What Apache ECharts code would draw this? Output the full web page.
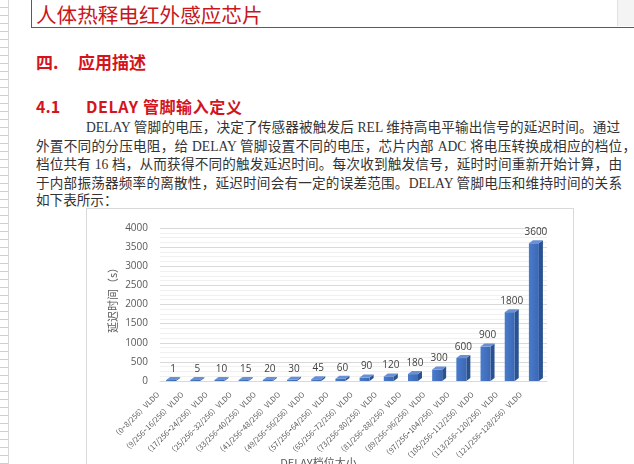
<!DOCTYPE html>
<html>
<head>
<meta charset="utf-8">
<script src="https://cdn.jsdelivr.net/npm/echarts@6/dist/echarts.min.js"></script>
<style>
    html, body { margin: 0; padding: 0; background: #fff; overflow: hidden; }
    body { width: 634px; height: 464px; position: relative; font-family: "Liberation Serif", "Noto Sans CJK SC", serif; }
    .ruler { position: absolute; left: 0; top: 0; width: 8px; height: 464px;
        border-right: 1px solid #d8d8d8;
        background: repeating-linear-gradient(to bottom, transparent 0, transparent 7px, #cfcfcf 7px, #cfcfcf 8px); }
    .titlebox { position: absolute; left: 31px; top: -12px; width: 640px; height: 40px; border: 1px solid #5a5a5a; box-sizing: border-box; }
    .title { position: absolute; left: 36px; top: 1px; font: 20.6px "Noto Sans CJK SC", sans-serif; color: #c8161d; line-height: 26px; }
    .panel { position: absolute; left: 617px; top: 0; width: 17px; height: 26px; background: #f4f4f4; border-left: 1px solid #e2e2e2; }
    .h { position: absolute; font: bold 16px "Noto Sans CJK SC", sans-serif; color: #d4141c; line-height: 22px; white-space: pre; }
    .line { position: absolute; font-size: 13.6px; color: #333; line-height: 18px; text-align: justify; text-align-last: justify; white-space: nowrap; }
    .frame { position: absolute; left: 86px; top: 208px; width: 488px; height: 270px; border: 1px solid #d9d9d9; box-sizing: border-box; }
    #delayChart { position: absolute; left: 86px; top: 208px; width: 488px; height: 270px; }
</style>
</head>
<body>
<div class="ruler"></div>
<div class="titlebox"></div>
<div class="title">人体热释电红外感应芯片</div>
<div class="panel"></div>
<div class="h" style="left:36px;top:51px;font-size:17px;">四.</div>
<div class="h" style="left:78px;top:51px;font-size:17px;">应用描述</div>
<div class="h" style="left:36px;top:95px;">4.1</div>
<div class="h" style="left:86px;top:95px;letter-spacing:0.6px;">DELAY 管脚输入定义</div>
<div class="line" style="left:86px;top:119px;width:534px;">DELAY 管脚的电压，决定了传感器被触发后 REL 维持高电平输出信号的延迟时间。通过</div>
<div class="line" style="left:36px;top:138px;width:600px;">外置不同的分压电阻，给 DELAY 管脚设置不同的电压，芯片内部 ADC 将电压转换成相应的档位，</div>
<div class="line" style="left:36px;top:156px;width:586px;">档位共有 16 档，从而获得不同的触发延迟时间。每次收到触发信号，延时时间重新开始计算，由</div>
<div class="line" style="left:36px;top:175px;width:586px;">于内部振荡器频率的离散性，延迟时间会有一定的误差范围。DELAY 管脚电压和维持时间的关系</div>
<div class="line" style="left:36px;top:192px;text-align:left;text-align-last:left;">如下表所示：</div>
<div class="frame"></div>
<div id="delayChart"></div>

<script>
// données
const categories = [
    "（0~8/256）VLDO", "（9/256~16/256）VLDO", "（17/256~24/256）VLDO", "（25/256~32/256）VLDO",
    "（33/256~40/256）VLDO", "（41/256~48/256）VLDO", "（49/256~56/256）VLDO", "（57/256~64/256）VLDO",
    "（65/256~72/256）VLDO", "（73/256~80/256）VLDO", "（81/256~88/256）VLDO", "（89/256~96/256）VLDO",
    "（97/256~104/256）VLDO", "（105/256~112/256）VLDO", "（113/256~120/256）VLDO", "（121/256~128/256）VLDO"
];
const delaySeconds = [1, 5, 10, 15, 20, 30, 45, 60, 90, 120, 180, 300, 600, 900, 1800, 3600];
const yMin = 0;
const yMax = 4000;
const yStep = 500;

const chart = echarts.init(document.getElementById("delayChart"));

// barre "3D" : face avant + côté + dessus
function renderBar(params, api) {
    const idx = api.value(0);
    const val = api.value(1);
    const base = api.coord([idx, 0]);
    const top = api.coord([idx, val]);
    const w = 10, dx = 4, dy = 3;
    const x0 = base[0] - w / 2 - 1;
    const x1 = x0 + w;
    const yb = base[1];
    const yt = Math.min(top[1], yb - 1);
    return {
        type: "group",
        children: [
            {
                type: "polygon",
                shape: { points: [[x1, yb], [x1 + dx, yb - dy], [x1 + dx, yt - dy], [x1, yt]] },
                style: { fill: "#2b5290" }
            },
            {
                type: "rect",
                shape: { x: x0, y: yt, width: w, height: yb - yt },
                style: {
                    fill: new echarts.graphic.LinearGradient(0, 0, 1, 0, [
                        { offset: 0, color: "#4a7bcc" },
                        { offset: 1, color: "#3c68b4" }
                    ])
                }
            },
            {
                type: "polygon",
                shape: { points: [[x0, yt], [x0 + dx, yt - dy], [x1 + dx, yt - dy], [x1, yt]] },
                style: { fill: "#6790d6" }
            },
            {
                type: "text",
                style: {
                    text: String(val),
                    x: base[0] + 1,
                    y: yt - dy - 3,
                    align: "center",
                    verticalAlign: "bottom",
                    fill: "#404040",
                    font: "10px 'Open Sans', sans-serif"
                }
            }
        ]
    };
}

chart.setOption({
    animation: false,
    grid: { left: 74, right: 27, top: 20, bottom: 97, containLabel: false, outerBoundsMode: "none" },
    xAxis: {
        type: "category",
        data: categories,
        name: "DELAY档位大小",
        nameLocation: "middle",
        nameGap: 76,
        nameMoveOverlap: false,
        nameTextStyle: { color: "#595959", fontSize: 11, fontFamily: "Noto Sans CJK SC", padding: [0, 70, 0, 0] },
        axisLine: { lineStyle: { color: "#d9d9d9" } },
        axisTick: { show: false },
        axisLabel: {
            interval: 0,
            rotate: 45,
            margin: -2,
            padding: [0, 20, 0, 0],
            fontSize: 7.5,
            color: "#595959",
            fontFamily: "'Noto Sans CJK SC', sans-serif"
        }
    },
    yAxis: {
        type: "value",
        min: yMin,
        max: yMax,
        interval: yStep,
        name: "延迟时间（s）",
        nameLocation: "middle",
        nameGap: 42,
        nameMoveOverlap: false,
        nameTextStyle: { color: "#595959", fontSize: 11, fontFamily: "Noto Sans CJK SC", padding: [0, 0, 0, 14] },
        axisLine: { show: false },
        axisTick: { show: false },
        axisLabel: {
            color: "#595959",
            fontSize: 10,
            margin: 12,
            fontFamily: "'Open Sans', sans-serif",
            formatter: (v) => String(v)
        },
        splitLine: { lineStyle: { color: "#d9d9d9" } },
        minorTick: { show: false, splitNumber: 4 },
        minorSplitLine: { show: true, lineStyle: { color: "#f0f0f0" } }
    },
    series: [
        {
            type: "custom",
            renderItem: renderBar,
            data: delaySeconds.map((v, i) => [i, v]),
            encode: { x: 0, y: 1 }
        }
    ]
});
</script>
</body>
</html>
